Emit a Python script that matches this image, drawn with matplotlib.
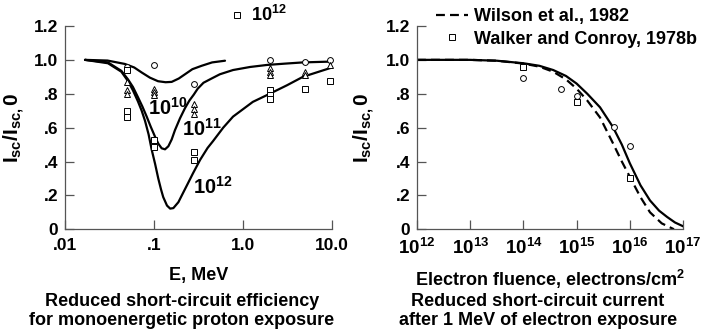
import numpy as np
import matplotlib.pyplot as plt
from matplotlib.lines import Line2D

plt.rcParams['font.family'] = 'Liberation Sans'
plt.rcParams['font.weight'] = 'bold'
plt.rcParams['axes.labelweight'] = 'bold'
plt.rcParams['mathtext.fontset'] = 'custom'
for key in ('rm', 'it', 'bf', 'sf'):
    plt.rcParams['mathtext.' + key] = 'Liberation Sans:bold'

# --- proton exposure: relative Isc vs proton energy (MeV), one curve per fluence
e_1e10 = [0.0168, 0.030, 0.047, 0.060, 0.073, 0.090, 0.111, 0.135, 0.158, 0.190, 0.223, 0.270, 0.343, 0.45, 0.628]
y_1e10 = [1.0, 0.996, 0.976, 0.955, 0.925, 0.895, 0.874, 0.868, 0.870, 0.890, 0.915, 0.945, 0.965, 0.985, 0.995]

e_1e11 = [0.0168, 0.0304, 0.043, 0.051, 0.058, 0.066, 0.074, 0.0828, 0.092, 0.1026, 0.112, 0.122, 0.133, 0.145,
          0.158, 0.172, 0.196, 0.223, 0.25, 0.28, 0.31, 0.36, 0.444, 0.55, 0.773, 1.2, 1.86, 3.0, 4.72, 10.0]
y_1e11 = [1.0, 0.985, 0.935, 0.885, 0.84, 0.78, 0.725, 0.665, 0.605, 0.547, 0.505, 0.478, 0.472, 0.49,
          0.53, 0.585, 0.655, 0.715, 0.76, 0.795, 0.83, 0.865, 0.89, 0.915, 0.94, 0.958, 0.97, 0.978, 0.985, 0.99]

e_1e12 = [0.0168, 0.0304, 0.043, 0.051, 0.058, 0.066, 0.0727, 0.0793, 0.087, 0.0942, 0.103, 0.1117, 0.120, 0.127,
          0.14, 0.152, 0.165, 0.188, 0.21, 0.24, 0.274, 0.33, 0.40, 0.46, 0.60, 0.773, 1.29, 1.91, 3.12, 4.72, 10.0]
y_1e12 = [1.0, 0.98, 0.93, 0.875, 0.82, 0.755, 0.70, 0.64, 0.56, 0.47, 0.385, 0.30, 0.235, 0.19,
          0.14, 0.122, 0.125, 0.16, 0.21, 0.27, 0.33, 0.41, 0.48, 0.52, 0.60, 0.665, 0.752, 0.795, 0.85, 0.90, 0.955]

circ_e = [0.05, 0.1, 0.28, 2.0, 5.0, 9.5]
circ_y = [0.96, 0.97, 0.86, 1.0, 0.99, 1.0]
tri_e = [0.05, 0.05, 0.05, 0.1, 0.1, 0.1, 0.28, 0.28, 0.28, 2.0, 2.0, 2.0, 5.0, 5.0, 9.5]
tri_y = [0.87, 0.82, 0.80, 0.83, 0.81, 0.79, 0.74, 0.71, 0.68, 0.95, 0.93, 0.91, 0.93, 0.91, 0.97]
sq_e = [0.05, 0.05, 0.05, 0.1, 0.1, 0.28, 0.28, 2.0, 2.0, 2.0, 5.0, 9.5]
sq_y = [0.94, 0.70, 0.664, 0.526, 0.486, 0.457, 0.408, 0.82, 0.79, 0.77, 0.83, 0.876]

e_ticks = [0.01, 0.1, 1.0, 10.0]
e_ticklabels = ['.01', '.1', '1.0', '10.0']
y_ticks = [0, 0.2, 0.4, 0.6, 0.8, 1.0, 1.2]
y_ticklabels = ['0', '.2', '.4', '.6', '.8', '1.0', '1.2']

# --- 1 MeV electron exposure: relative Isc vs fluence (log10 electrons/cm^2)
lf_calc = [12.0, 13.0, 13.5, 14.0, 14.3, 14.56, 14.8, 15.0, 15.2, 15.44, 15.68, 15.85, 16.0, 16.2, 16.38, 16.55, 16.7, 16.85, 17.0]
y_calc = [1.0, 1.0, 0.995, 0.98, 0.965, 0.94, 0.905, 0.86, 0.80, 0.72, 0.605, 0.50, 0.39, 0.26, 0.17, 0.11, 0.073, 0.04, 0.018]

lf_wilson = [12.0, 13.0, 13.5, 14.0, 14.3, 14.56, 14.8, 15.0, 15.2, 15.44, 15.68, 15.85, 16.0, 16.2, 16.38, 16.6, 16.83]
y_wilson = [1.0, 1.0, 0.995, 0.978, 0.96, 0.93, 0.885, 0.83, 0.76, 0.66, 0.51, 0.40, 0.31, 0.19, 0.10, 0.035, 0.0]

walker_circ_f = [1e14, 5e14, 1e15, 5e15, 1e16]
walker_circ_y = [0.894, 0.83, 0.786, 0.605, 0.49]
walker_sq_f = [1e14, 1e15, 1e16]
walker_sq_y = [0.955, 0.75, 0.30]

f_ticks = [1e12, 1e13, 1e14, 1e15, 1e16, 1e17]
f_ticklabels = [r'$10^{12}$', r'$10^{13}$', r'$10^{14}$', r'$10^{15}$', r'$10^{16}$', r'$10^{17}$']

AXC = '#555555'
TICK_FS = 12.5
TEXT_FS = 13


def style_axes(ax):
    for side in ('top', 'right'):
        ax.spines[side].set_visible(False)
    for side in ('left', 'bottom'):
        ax.spines[side].set_color(AXC)
        ax.spines[side].set_linewidth(0.9)
    ax.tick_params(which='major', direction='in', length=6.5, width=0.9, color=AXC, labelsize=TICK_FS)
    ax.tick_params(axis='x', pad=6)
    ax.tick_params(axis='y', pad=5)
    ax.minorticks_off()
    ax.set_ylim(0, 1.2)
    ax.set_yticks(y_ticks)
    ax.set_yticklabels(y_ticklabels)


fig = plt.figure(figsize=(7.08, 3.31), dpi=100)
ax1 = fig.add_axes([0.0918, 0.3073, 0.3771, 0.6142])
ax2 = fig.add_axes([0.589, 0.3073, 0.3757, 0.6142])

mk = dict(linestyle='none', mfc='white', mec='black', mew=0.7, clip_on=False)

# left panel
ax1.set_xscale('log')
for e, y in ((e_1e10, y_1e10), (e_1e11, y_1e11), (e_1e12, y_1e12)):
    ax1.plot(e, y, color='black', lw=1.6, solid_capstyle='round')
ax1.plot(circ_e, circ_y, marker='o', ms=4.2, **mk)
ax1.plot(tri_e, tri_y, marker='^', ms=4.2, **mk)
ax1.plot(sq_e, sq_y, marker='s', ms=3.8, **mk)
ax1.set_xlim(0.01, 10)
ax1.set_xticks(e_ticks)
ax1.set_xticklabels(e_ticklabels)
style_axes(ax1)

ax1.text(0.1435, 0.716, r'$10^{10}$', fontsize=14.5, ha='center', va='center')
ax1.text(0.346, 0.59, r'$10^{11}$', fontsize=14.5, ha='center', va='center')
ax1.text(0.46, 0.25, r'$10^{12}$', fontsize=14.5, ha='center', va='center')

sq_handle = Line2D([], [], marker='s', ms=3.8, linestyle='none', mfc='white', mec='black', mew=0.7)
ax1.legend([sq_handle], [r'$10^{12}$'], loc='center left', bbox_to_anchor=(0.61, 1.054),
           frameon=False, fontsize=TEXT_FS, handlelength=1.0, handletextpad=0.3, borderpad=0, borderaxespad=0)

ax1.set_xlabel('E, MeV', fontsize=TEXT_FS)
ax1.xaxis.set_label_coords(0.5, -0.185)
ax1.set_ylabel(r'$I_{sc}/I_{sc,}0$', fontsize=15)
ax1.yaxis.set_label_coords(-0.142, 0.5)

# right panel
ax2.set_xscale('log')
f_calc = [10 ** v for v in lf_calc]
f_wilson = [10 ** v for v in lf_wilson]
ax2.plot(f_calc, y_calc, color='black', lw=1.6)
ax2.plot(f_wilson, y_wilson, color='black', lw=1.6, dashes=(4, 2.3))
ax2.plot(walker_circ_f, walker_circ_y, marker='o', ms=4.2, **mk)
ax2.plot(walker_sq_f, walker_sq_y, marker='s', ms=3.8, **mk)
ax2.set_xlim(1e12, 1e17)
ax2.set_xticks(f_ticks)
ax2.set_xticklabels(f_ticklabels)
style_axes(ax2)
ax2.tick_params(axis='x', labelsize=13.5, pad=6)

leg_handles = [Line2D([], [], color='black', lw=1.6, dashes=(4, 2.3)),
               Line2D([], [], marker='s', ms=3.8, linestyle='none', mfc='white', mec='black', mew=0.7)]
ax2.legend(leg_handles, ['Wilson et al., 1982', 'Walker and Conroy, 1978b'], loc='upper left',
           bbox_to_anchor=(0.072, 1.088), frameon=False, fontsize=TEXT_FS, handlelength=1.75,
           handletextpad=0.35, labelspacing=0.3, borderpad=0, borderaxespad=0)

ax2.set_xlabel('Electron fluence, electrons/cm$^2$', fontsize=TEXT_FS)
ax2.xaxis.set_label_coords(0.5, -0.19)
ax2.set_ylabel(r'$I_{sc}/I_{sc,}0$', fontsize=15)
ax2.yaxis.set_label_coords(-0.15, 0.5)

# captions
fig.text(0.257, 0.0906, 'Reduced short-circuit efficiency', ha='center', va='center', fontsize=TEXT_FS)
fig.text(0.257, 0.0332, 'for monoenergetic proton exposure', ha='center', va='center', fontsize=TEXT_FS)
fig.text(0.76, 0.0906, 'Reduced short-circuit current', ha='center', va='center', fontsize=TEXT_FS)
fig.text(0.76, 0.0332, 'after 1 MeV of electron exposure', ha='center', va='center', fontsize=TEXT_FS)

fig.savefig('out.png', dpi=100)
